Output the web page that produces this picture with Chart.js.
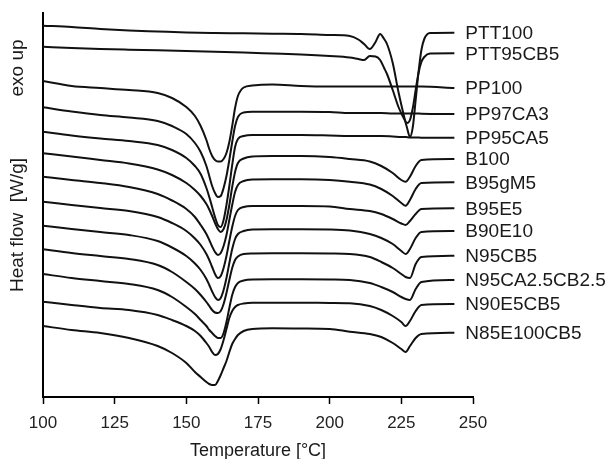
<!DOCTYPE html>
<html>
<head>
<meta charset="utf-8">
<script src="https://cdn.jsdelivr.net/npm/chart.js@4.4.1/dist/chart.umd.min.js"></script>
<style>
  html, body { margin: 0; padding: 0; background: #fff; }
  #wrap { width: 609px; height: 459px; }
</style>
</head>
<body>
<div id="wrap"><canvas id="dsc" width="609" height="459"></canvas></div>
<script>
// DSC heating curves, stacked with vertical offsets (exo up), heat flow in arbitrary units.
const xTicks = [100, 125, 150, 175, 200, 225, 250];

// Temperatures (°C) at which the PTT curves are sampled
const tempsPTT = [100, 110, 120, 130, 140, 150, 160, 170, 180, 190, 200, 207, 210, 212, 214, 216, 217.6,
                  219, 220, 222, 224, 226, 227, 228, 229, 230, 231, 232, 233, 235, 243.5];

// Temperatures (°C) at which the PP-based curves are sampled
const tempsPP = [100, 110, 120, 130, 140, 145, 150, 153, 155, 157, 158, 159, 160, 161, 162, 163, 164, 165,
                 166, 167, 168, 170, 173, 180, 190, 200, 207, 214, 218, 222, 225, 226.5, 228, 230, 232, 243.5];

const ptt100   = [371.3, 370, 368, 366.5, 365.5, 364.5, 364, 363.7, 363.3, 363, 362, 361, 357.5, 353, 348, 355, 363,
                  358, 353, 334, 305, 280, 269, 260, 270, 297, 325, 347, 358, 364, 364.3];
const ptt95cb5 = [350.3, 349, 348, 347.3, 346.7, 346, 345.3, 344.5, 343.5, 342.5, 341, 339.5, 338, 337, 341, 340.5, 337,
                  329, 323, 307, 290, 278, 274, 277, 289, 307, 324, 335, 340, 343.5, 343.7];

const pp100   = [316, 311, 309, 307, 304, 299, 290, 281, 271, 257, 248, 241, 237, 235.5, 235.5, 238, 244, 255,
                 271, 289, 301, 309.5, 311.5, 312.5, 311, 310.5, 310.5, 310.5, 310.5, 310.5, 310.5, 310.5, 310.5, 310.5, 310.5, 309];
const pp97ca3 = [289.7, 285.5, 282, 279.5, 276, 271, 263, 254, 245, 231, 221, 211, 204, 200, 201, 209, 221, 237,
                 255, 271, 280, 284.5, 285.3, 285.3, 285.3, 285, 284, 284, 284, 283.5, 283.5, 283.5, 283.5, 283.5, 283.3, 283];
const pp95ca5 = [265.3, 261.5, 258.5, 256, 252, 247, 239, 231, 223, 209, 200, 190, 180, 172, 170, 177, 192, 211,
                 232, 250, 258, 261, 262, 262, 262, 261.5, 261, 261, 261, 260.5, 260, 260, 259.5, 259.5, 259.3, 259.3];
const b100    = [243.7, 240.5, 237, 233.5, 227.5, 222, 214, 207, 201, 193, 187.5, 181, 174, 168, 165, 168, 177, 192,
                 210, 225, 234, 238.5, 240.5, 241, 241, 240, 238, 235.5, 231, 224, 217, 215.3, 220.3, 231, 237, 238];
const b95gm5  = [220.3, 217, 214, 210, 203, 196.5, 188, 180, 172, 163, 157, 150.5, 145, 142, 144, 151, 162, 177,
                 192, 205, 212, 216, 217.5, 217.7, 217.7, 217, 215.3, 212.5, 208, 201, 194, 191.3, 197, 208, 214, 214.7];
const b95e5   = [195.3, 192, 189, 186, 180, 174, 166, 158.5, 152, 143, 137, 130, 123, 119, 121, 129, 141, 156,
                 170, 181, 187, 190, 191, 191, 191, 190.5, 188, 186, 183, 178, 173.5, 172, 176, 183, 188, 188.7];
const b90e10  = [171.3, 168, 165, 162, 156, 149.5, 141, 133.5, 127, 118, 112, 105.5, 100, 97, 99, 107, 119, 134,
                 148, 158, 163, 166, 167.5, 167.7, 167.7, 167.5, 166.5, 163, 159, 153, 146, 143, 148, 159, 165, 166];
const n95cb5  = [147.7, 144, 141, 138, 132, 125, 115, 108, 102, 95, 91, 87, 84.5, 84, 86, 93, 104, 117,
                 129, 137, 140.5, 143, 143.5, 143.7, 143.7, 143.5, 143, 140, 135, 129, 123, 120, 119, 133, 140, 141.3];
const n95ca25cb25 = [123, 119, 116, 113, 107, 100, 90, 83, 77, 71, 67, 64, 61, 59, 59, 64, 75, 89,
                 102, 110, 114, 116.5, 117.5, 117.7, 117.7, 117.5, 117, 114, 110, 105, 100, 98, 97, 108, 115, 117];
const n90e5cb5 = [95.3, 92, 89, 87, 82, 77, 71, 66, 61, 54, 50, 45, 42, 43, 48, 57, 68, 79,
                 86, 90, 92, 93.5, 94.3, 94.3, 94.3, 94, 93.7, 91, 87, 81, 75, 71, 76, 86, 92, 93];
const n85e100cb5 = [71, 67, 64, 59, 51, 44, 34, 25, 20, 15, 13, 12, 12, 16, 22, 29, 36, 45,
                 53, 58, 62, 66, 68, 68.7, 68.5, 68, 65.3, 63, 60, 54, 48, 45, 51, 59, 63, 64.3];

const curves = [
  ['PTT100', tempsPTT, ptt100],
  ['PTT95CB5', tempsPTT, ptt95cb5],
  ['PP100', tempsPP, pp100],
  ['PP97CA3', tempsPP, pp97ca3],
  ['PP95CA5', tempsPP, pp95ca5],
  ['B100', tempsPP, b100],
  ['B95gM5', tempsPP, b95gm5],
  ['B95E5', tempsPP, b95e5],
  ['B90E10', tempsPP, b90e10],
  ['N95CB5', tempsPP, n95cb5],
  ['N95CA2.5CB2.5', tempsPP, n95ca25cb25],
  ['N90E5CB5', tempsPP, n90e5cb5],
  ['N85E100CB5', tempsPP, n85e100cb5]
];

const FONT = '"Liberation Sans", Arial, Helvetica, sans-serif';
Chart.defaults.font.family = FONT;

const datasets = curves.map(([name, temps, vals]) => ({
  label: name,
  data: temps.map((t, i) => ({ x: t, y: vals[i] })),
  borderColor: '#111',
  borderWidth: 2,
  pointRadius: 0,
  fill: false,
  cubicInterpolationMode: 'monotone'
}));

// Curve names at the right-hand ends, plus the rotated y-axis captions and the x-axis caption
const curveLabels = {
  id: 'curveLabels',
  afterDatasetsDraw(chart) {
    const { ctx, scales: { x, y } } = chart;
    ctx.save();
    ctx.fillStyle = '#1a1a1a';
    ctx.font = '19px ' + FONT;
    ctx.textAlign = 'left';
    ctx.textBaseline = 'middle';
    chart.data.datasets.forEach(ds => {
      const last = ds.data[ds.data.length - 1];
      ctx.fillText(ds.label, x.getPixelForValue(last.x) + 11, y.getPixelForValue(last.y) + 1);
    });

    ctx.translate(18, 0);
    ctx.rotate(-Math.PI / 2);
    ctx.textAlign = 'center';
    ctx.fillText('exo up', -68, 0);
    ctx.fillText('Heat flow  [W/g]', -225, 0);
    ctx.restore();

    ctx.save();
    ctx.fillStyle = '#1a1a1a';
    ctx.font = '18px ' + FONT;
    ctx.textAlign = 'center';
    ctx.textBaseline = 'alphabetic';
    ctx.fillText('Temperature [°C]', (x.left + x.right) / 2, 456);
    ctx.restore();
  }
};

new Chart(document.getElementById('dsc'), {
  type: 'line',
  data: { datasets },
  options: {
    responsive: false,
    animation: false,
    layout: { padding: { top: 13, right: 136, bottom: 0, left: 0 } },
    plugins: { legend: { display: false }, tooltip: { enabled: false } },
    scales: {
      x: {
        type: 'linear',
        min: 100,
        max: 250,
        afterBuildTicks(scale) { scale.ticks = xTicks.map(v => ({ value: v })); },
        ticks: { color: '#222', font: { size: 17 }, padding: 9, maxRotation: 0 },
        grid: { display: true, drawOnChartArea: false, drawTicks: true, tickLength: 7, tickColor: '#000', tickWidth: 1.5 },
        border: { display: true, color: '#000', width: 2 },
        afterFit(scale) { scale.height = 62; }
      },
      y: {
        min: 0,
        max: 384,
        ticks: { display: false },
        grid: { display: false, drawTicks: false },
        border: { display: true, color: '#000', width: 2 },
        afterFit(scale) { scale.width = 43; }
      }
    }
  },
  plugins: [curveLabels]
});
</script>
</body>
</html>
